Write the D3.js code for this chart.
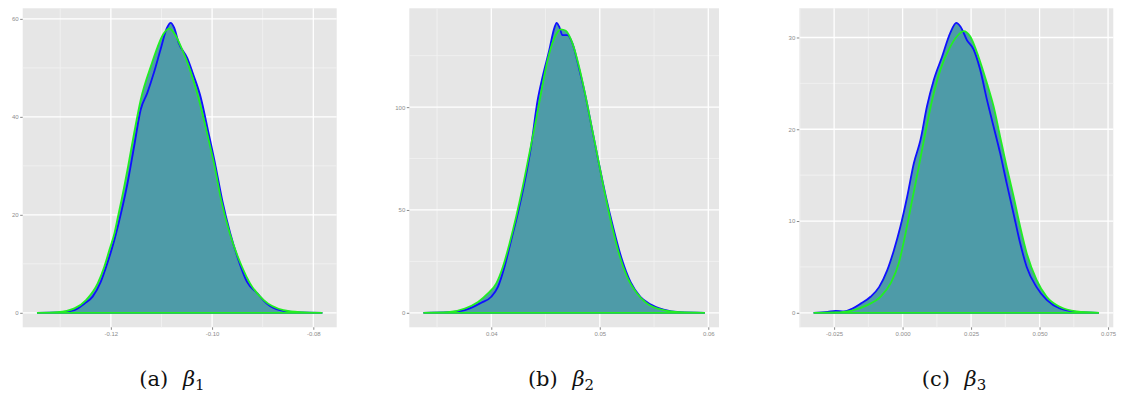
<!DOCTYPE html>
<html>
<head>
<meta charset="utf-8">
<script src="https://cdn.jsdelivr.net/npm/d3@7"></script>
<style>
  body { margin: 0; background: #fff; }
  svg { display: block; }
</style>
</head>
<body>
<script>
// density curves, [x, density]
var beta1Blue = [
  [-0.1346, 0], [-0.1305, 0.07], [-0.1272, 0.55], [-0.1252, 1.9], [-0.1236, 3.3],
  [-0.1220, 6.3], [-0.1207, 10.1], [-0.1193, 14.9], [-0.1180, 20.3], [-0.1167, 26.5],
  [-0.1154, 34.0], [-0.1141, 41.5], [-0.1128, 44.9], [-0.1115, 49.0], [-0.1102, 53.7],
  [-0.1089, 58.2], [-0.1082, 59.2], [-0.1075, 58.2], [-0.1066, 55.1], [-0.1049, 52.0],
  [-0.1036, 48.3], [-0.1023, 44.2], [-0.1007, 36.7], [-0.0993, 29.9], [-0.0980, 23.0],
  [-0.0964, 16.2], [-0.0948, 10.8], [-0.0931, 6.3], [-0.0911, 4.0], [-0.0892, 1.9],
  [-0.0866, 0.55], [-0.0826, 0.07], [-0.0782, 0]
];
var beta1Green = [
  [-0.1346, 0], [-0.1305, 0.14], [-0.1272, 0.9], [-0.1249, 2.6], [-0.1226, 6.0],
  [-0.1213, 9.4], [-0.1203, 12.8], [-0.1193, 16.2], [-0.1186, 19.6], [-0.1179, 23.0],
  [-0.1166, 29.9], [-0.1154, 36.7], [-0.1141, 43.5], [-0.1121, 50.3], [-0.1095, 57.1],
  [-0.1085, 58.0], [-0.1075, 57.1], [-0.1059, 53.7], [-0.1046, 50.3], [-0.1026, 43.5],
  [-0.1010, 36.7], [-0.0995, 29.9], [-0.0982, 23.0], [-0.0965, 16.2], [-0.0941, 9.4],
  [-0.0925, 6.0], [-0.0898, 2.6], [-0.0859, 0.55], [-0.0826, 0.14], [-0.0782, 0]
];
var beta2Blue = [
  [0.03374, 0], [0.03603, 0.3], [0.03756, 1.3], [0.03908, 4.9], [0.04000, 7.8],
  [0.04061, 12.6], [0.04122, 22.4], [0.04183, 35.3], [0.04244, 48.3], [0.04305, 62.9],
  [0.04366, 80.7], [0.04427, 103.4], [0.04473, 114.8], [0.04534, 127.7], [0.04580, 138.3],
  [0.04602, 141.0], [0.04626, 139.1], [0.04656, 135.0], [0.04702, 135.0], [0.04748, 131.0],
  [0.04809, 118.8], [0.04870, 105.0], [0.04931, 88.8], [0.04992, 72.6], [0.05053, 57.2],
  [0.05130, 40.2], [0.05206, 25.6], [0.05282, 15.1], [0.05374, 7.8], [0.05466, 4.2],
  [0.05588, 1.6], [0.05740, 0.3], [0.05969, 0]
];
var beta2Green = [
  [0.03374, 0], [0.03603, 0.3], [0.03756, 2.1], [0.03878, 5.3], [0.03969, 9.4],
  [0.04046, 14.3], [0.04107, 22.4], [0.04168, 33.7], [0.04229, 46.7], [0.04290, 61.3],
  [0.04351, 77.5], [0.04412, 93.7], [0.04458, 106.7], [0.04519, 122.9], [0.04580, 133.4],
  [0.04641, 137.8], [0.04687, 137.1], [0.04748, 131.0], [0.04809, 119.6], [0.04870, 105.0],
  [0.04931, 88.8], [0.04992, 72.6], [0.05053, 56.4], [0.05114, 41.8], [0.05176, 28.9],
  [0.05252, 17.5], [0.05344, 9.4], [0.05435, 4.5], [0.05588, 1.3], [0.05740, 0.3],
  [0.05969, 0]
];
var beta3Blue = [
  [-0.0325, 0], [-0.0274, 0.11], [-0.0244, 0.22], [-0.0214, 0.15], [-0.0183, 0.47],
  [-0.0153, 1.0], [-0.0117, 1.75], [-0.0086, 2.8], [-0.0056, 4.65], [-0.0032, 6.8],
  [-0.0008, 9.4], [0.0017, 12.7], [0.0041, 16.3], [0.0065, 18.8], [0.0089, 22.5],
  [0.0114, 25.4], [0.0144, 27.9], [0.0174, 30.5], [0.0196, 31.6], [0.0211, 31.2],
  [0.0235, 29.7], [0.0259, 28.7], [0.0283, 26.5], [0.0308, 23.2], [0.0332, 20.3],
  [0.0356, 17.4], [0.0380, 14.1], [0.0405, 10.8], [0.0429, 7.6], [0.0453, 5.0],
  [0.0489, 2.8], [0.0526, 1.4], [0.0574, 0.47], [0.0635, 0.11], [0.0717, 0]
];
var beta3Green = [
  [-0.0325, 0], [-0.0250, 0.04], [-0.0189, 0.22], [-0.0129, 0.84], [-0.0080, 1.75],
  [-0.0044, 3.2], [-0.0014, 5.4], [0.0011, 8.7], [0.0035, 12.3], [0.0059, 15.9],
  [0.0083, 19.6], [0.0108, 23.2], [0.0138, 26.5], [0.0174, 29.0], [0.0211, 30.5],
  [0.0223, 30.7], [0.0247, 30.1], [0.0277, 27.9], [0.0308, 25.0], [0.0332, 22.5],
  [0.0356, 19.2], [0.0380, 15.9], [0.0405, 12.7], [0.0429, 9.4], [0.0453, 6.5],
  [0.0489, 3.6], [0.0526, 1.75], [0.0574, 0.65], [0.0635, 0.15], [0.0717, 0]
];

// ticks and labels
var xTicks1 = [-0.12, -0.10, -0.08];
var xLabels1 = ["-0.12", "-0.10", "-0.08"];
var yTicks1 = [0, 20, 40, 60];
var xTicks2 = [0.04, 0.05, 0.06];
var xLabels2 = ["0.04", "0.05", "0.06"];
var yTicks2 = [0, 50, 100];
var xTicks3 = [-0.025, 0, 0.025, 0.05, 0.075];
var xLabels3 = ["-0.025", "0.000", "0.025", "0.050", "0.075"];
var yTicks3 = [0, 10, 20, 30];

var captionLetters = ["(a)", "(b)", "(c)"];
var captionSubs = ["1", "2", "3"];

const WIDTH = 1128;
const HEIGHT = 393;
const TOP = 8.3;
const BOTTOM = 327.3;

var panels = [
  {blue: beta1Blue, green: beta1Green, xt: xTicks1, xl: xLabels1, yt: yTicks1, left: 22.7, right: 336.7, cap: 172},
  {blue: beta2Blue, green: beta2Green, xt: xTicks2, xl: xLabels2, yt: yTicks2, left: 409.3, right: 719, cap: 561},
  {blue: beta3Blue, green: beta3Green, xt: xTicks3, xl: xLabels3, yt: yTicks3, left: 799.3, right: 1113.3, cap: 954}
];

var svg = d3.select("body")
    .append("svg")
    .attr("width", WIDTH)
    .attr("height", HEIGHT);

panels.forEach(function(p, i) {
  var all = p.blue.concat(p.green);
  var xExt = d3.extent(all, d => d[0]);
  var yMax = d3.max(all, d => d[1]);
  var xPad = (xExt[1] - xExt[0]) * 0.05;

  // ggplot style 5% expansion
  var xScale = d3.scaleLinear()
      .domain([xExt[0] - xPad, xExt[1] + xPad])
      .range([p.left, p.right]);
  var yScale = d3.scaleLinear()
      .domain([-yMax * 0.05, yMax * 1.05])
      .range([BOTTOM, TOP]);

  var g = svg.append("g");

  g.append("rect")
      .attr("x", p.left).attr("y", TOP)
      .attr("width", p.right - p.left).attr("height", BOTTOM - TOP)
      .attr("fill", "#e6e6e6");

  // minor grid halfway between majors
  var xStep = p.xt[1] - p.xt[0];
  var yStep = p.yt[1] - p.yt[0];
  var xMinor = d3.range(p.xt[0] - xStep / 2, p.xt[p.xt.length - 1] + xStep, xStep)
      .filter(v => v >= xScale.domain()[0] && v <= xScale.domain()[1]);
  var yMinor = d3.range(yStep / 2, yScale.domain()[1], yStep);

  g.selectAll(".xminor").data(xMinor).enter().append("line")
      .attr("x1", d => xScale(d)).attr("x2", d => xScale(d))
      .attr("y1", TOP).attr("y2", BOTTOM)
      .attr("stroke", "#f3f3f3").attr("stroke-width", 0.8);
  g.selectAll(".yminor").data(yMinor).enter().append("line")
      .attr("x1", p.left).attr("x2", p.right)
      .attr("y1", d => yScale(d)).attr("y2", d => yScale(d))
      .attr("stroke", "#f3f3f3").attr("stroke-width", 0.8);
  g.selectAll(".xmajor").data(p.xt).enter().append("line")
      .attr("x1", d => xScale(d)).attr("x2", d => xScale(d))
      .attr("y1", TOP).attr("y2", BOTTOM)
      .attr("stroke", "#fff").attr("stroke-width", 1.3);
  g.selectAll(".ymajor").data(p.yt).enter().append("line")
      .attr("x1", p.left).attr("x2", p.right)
      .attr("y1", d => yScale(d)).attr("y2", d => yScale(d))
      .attr("stroke", "#fff").attr("stroke-width", 1.3);

  var area = d3.area()
      .x(d => xScale(d[0]))
      .y0(yScale(0))
      .y1(d => yScale(d[1]))
      .curve(d3.curveMonotoneX);
  var outline = d3.line()
      .x(d => xScale(d[0]))
      .y(d => yScale(d[1]))
      .curve(d3.curveMonotoneX);

  [p.blue, p.green].forEach(function(c) {
    g.append("path").attr("d", area(c)).attr("fill", "#4e9ba8");
  });
  g.append("path").attr("d", outline(p.blue) + "Z")
      .attr("fill", "none").attr("stroke", "#1010ff").attr("stroke-width", 1.8);
  g.append("path").attr("d", outline(p.green) + "Z")
      .attr("fill", "none").attr("stroke", "#22ee22").attr("stroke-width", 1.8);

  // axes
  var xAxis = g.append("g")
      .attr("transform", `translate(0,${BOTTOM})`)
      .call(d3.axisBottom(xScale).tickValues(p.xt)
          .tickFormat((d, j) => p.xl[j]).tickSize(2.5).tickPadding(1.5));
  var yAxis = g.append("g")
      .attr("transform", `translate(${p.left},0)`)
      .call(d3.axisLeft(yScale).tickValues(p.yt).tickSize(2.5).tickPadding(1.5));
  [xAxis, yAxis].forEach(function(a) {
    a.select(".domain").remove();
    a.selectAll("line").attr("stroke", "#888");
    a.selectAll("text")
        .attr("fill", "#8c8c8c")
        .attr("font-family", "Liberation Sans, sans-serif")
        .attr("font-size", "6px");
  });

  // caption
  var cap = svg.append("text")
      .attr("x", p.cap).attr("y", 386)
      .attr("text-anchor", "middle")
      .attr("font-family", "DejaVu Serif, serif")
      .attr("font-size", "21px")
      .attr("fill", "#111");
  cap.append("tspan").text(captionLetters[i]);
  cap.append("tspan").attr("dx", "0.7em").attr("font-style", "italic").text("β");
  cap.append("tspan").attr("dy", 4).attr("font-size", "15px").text(captionSubs[i]);
});
</script>
</body>
</html>
